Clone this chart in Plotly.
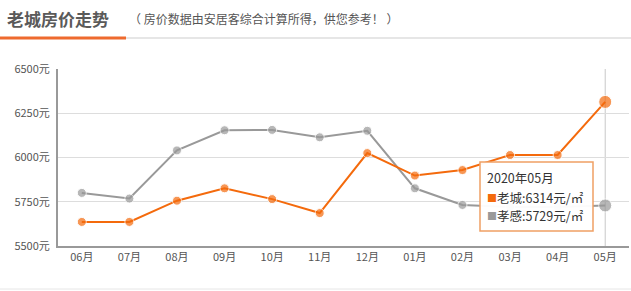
import plotly.graph_objects as go

months = ["06月", "07月", "08月", "09月", "10月", "11月", "12月", "01月", "02月", "03月", "04月", "05月"]
laocheng = [5636, 5636, 5756, 5826, 5765, 5686, 6025, 5898, 5929, 6014, 6014, 6314]
xiaogan = [5800, 5768, 6040, 6154, 6156, 6114, 6151, 5826, 5732, 5720, 5720, 5729]
y_ticks = [5500, 5750, 6000, 6250, 6500]
y_tick_labels = [f"{v}元" for v in y_ticks]

ORANGE = "#f46a0c"
GRAY = "#999999"
FONT = "Noto Sans CJK SC"

sizes = [9] * (len(months) - 1) + [13]

fig = go.Figure()
fig.add_trace(go.Scatter(x=months, y=xiaogan, mode="lines+markers", name="孝感",
                         line=dict(color=GRAY, width=2),
                         marker=dict(color=GRAY, size=sizes, line=dict(color="white", width=1))))
fig.add_trace(go.Scatter(x=months, y=laocheng, mode="lines+markers", name="老城",
                         line=dict(color=ORANGE, width=2),
                         marker=dict(color=ORANGE, size=sizes, line=dict(color="white", width=1))))

W, H = 631, 291
ml, mr, mt, mb = 58, 2, 69, 45
pw = W - ml - mr
ph = H - mt - mb

def px_x(p):
    return (p - ml) / pw

def px_y(p):
    return (H - mb - p) / ph

shapes = [
    dict(type="line", xref="paper", yref="paper", x0=px_x(0), x1=px_x(631), y0=px_y(38), y1=px_y(38),
         line=dict(color="#e6e6e6", width=2)),
    dict(type="line", xref="paper", yref="paper", x0=px_x(0), x1=px_x(126), y0=px_y(38), y1=px_y(38),
         line=dict(color="#ee6a2e", width=3)),
    dict(type="line", xref="paper", yref="paper", x0=px_x(0), x1=px_x(631), y0=px_y(289), y1=px_y(289),
         line=dict(color="#e6e6e6", width=1)),
    dict(type="line", xref="x", yref="y", x0=months[-1], x1=months[-1], y0=5500, y1=6500,
         line=dict(color="#c8c8c8", width=1), layer="below"),
    # tooltip box
    dict(type="rect", xref="paper", yref="paper", x0=px_x(480), x1=px_x(593), y0=px_y(162), y1=px_y(231),
         fillcolor="rgba(255,255,255,0.96)", line=dict(color="#f0a064", width=1.5), layer="above"),
]

def label(px, py, text, size=12, color="#333333"):
    return dict(xref="paper", yref="paper", x=px_x(px), y=px_y(py), xanchor="left", yanchor="middle",
                text=text, showarrow=False, font=dict(family=FONT, size=size, color=color))

annotations = [
    label(5, 18, "<b>老城房价走势</b>", 17, "#5a5a5a"),
    label(127, 19, "（ 房价数据由安居客综合计算所得，供您参考！ ）", 12, "#555555"),
    label(485, 177, "2020年05月", 12.5),
    label(485, 197, "■", 10, ORANGE),
    label(495, 197, f"老城:{laocheng[-1]}元/㎡", 12.5),
    label(485, 215, "■", 10, GRAY),
    label(495, 215, f"孝感:{xiaogan[-1]}元/㎡", 12.5),
]

fig.update_layout(
    width=W, height=H,
    margin=dict(l=ml, r=mr, t=mt, b=mb),
    paper_bgcolor="white", plot_bgcolor="white",
    showlegend=False,
    font=dict(family=FONT, size=11, color="#555555"),
    shapes=shapes, annotations=annotations,
    xaxis=dict(type="category", range=[-0.5, len(months) - 0.5], showgrid=False,
               showline=True, linecolor="#999999", linewidth=2, ticks="",
               tickfont=dict(family=FONT, size=11, color="#555555")),
    yaxis=dict(range=[5500, 6500], tickvals=y_ticks, ticktext=y_tick_labels, showgrid=True,
               gridcolor="#dddddd", gridwidth=1, zeroline=False,
               showline=True, linecolor="#999999", linewidth=2, ticks="",
               ticklabelstandoff=4,
               tickfont=dict(family=FONT, size=11, color="#555555")),
)

fig.write_html("out.html")
